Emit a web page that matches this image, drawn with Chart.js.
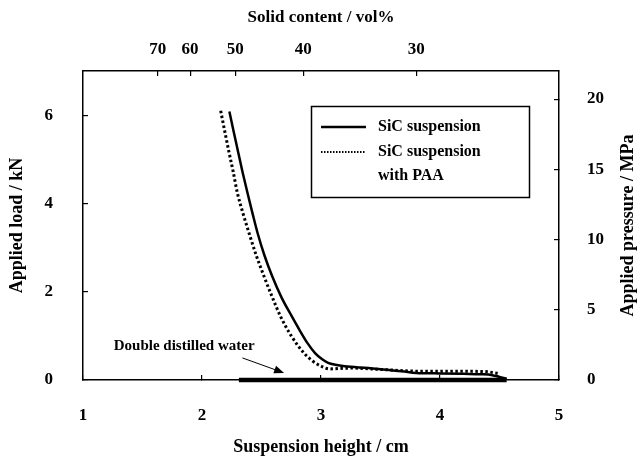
<!DOCTYPE html>
<html>
<head>
<meta charset="utf-8">
<script src="https://cdn.jsdelivr.net/npm/chart.js@4.4.1/dist/chart.umd.min.js"></script>
<style>
  html, body { margin: 0; padding: 0; background: #fff; }
  canvas { display: block; }
</style>
</head>
<body>
<canvas id="loadChart" width="640" height="458"></canvas>
<script>
// -------------------------------
// DONNEES
// -------------------------------
const HEIGHT_SIC = [2.23, 2.265, 2.305, 2.34, 2.382, 2.425, 2.467, 2.525, 2.59, 2.67, 2.755, 2.82, 2.885, 2.95, 3.01, 3.06, 3.12, 3.20, 3.40, 3.55, 3.68, 3.80, 4.00, 4.20, 4.35, 4.44, 4.50, 4.56];
const LOAD_SIC   = [6.08, 5.64, 5.15, 4.72, 4.24, 3.77, 3.33, 2.82, 2.35, 1.86, 1.44, 1.13, 0.84, 0.61, 0.47, 0.39, 0.345, 0.31, 0.27, 0.23, 0.20, 0.16, 0.15, 0.14, 0.13, 0.11, 0.07, 0.03];

const HEIGHT_PAA = [2.157, 2.19, 2.227, 2.262, 2.297, 2.345, 2.395, 2.455, 2.521, 2.59, 2.66, 2.75, 2.857, 2.93, 3.01, 3.07, 3.15, 3.26, 3.50, 3.82, 4.10, 4.38, 4.49];
const LOAD_PAA   = [6.10, 5.65, 5.16, 4.72, 4.24, 3.77, 3.33, 2.83, 2.35, 1.88, 1.44, 1.00, 0.61, 0.43, 0.30, 0.25, 0.26, 0.27, 0.24, 0.20, 0.20, 0.19, 0.15];

const HEIGHT_WATER = [2.31, 4.56];
const LOAD_WATER   = [0, 0];

// ticks
const HEIGHT_TICKS = [1, 2, 3, 4, 5];
const LOAD_TICKS = [0, 2, 4, 6];
const PRESSURE_TICKS = [0, 5, 10, 15, 20];
const SOLID_TICKS = [70, 60, 50, 40, 30];

const SOLID_FACTOR = 114;   // hauteur (cm) x teneur en solide (vol%)
const MPA_PER_KN = 3.143;   // conversion charge -> pression

// annotation "Double distilled water" (coordonnees des donnees)
const NOTE_TEXT = "Double distilled water";
const NOTE_AT = { x: 1.85, y: 0.77 };
const ARROW_FROM = { x: 2.34, y: 0.50 };
const ARROW_TO = { x: 2.69, y: 0.16 };

const FONT = "'Liberation Serif', 'Times New Roman', serif";
const BLACK = '#000';

function toPoints(xs, ys) {
  return xs.map((x, i) => ({ x: x, y: ys[i] }));
}

// axe avec cadre + graduations vers l'interieur
function frameAxis(extra) {
  return Object.assign({
    grid: { drawOnChartArea: false, drawTicks: true, tickLength: -5, color: BLACK, lineWidth: 1.2 },
    border: { display: true, color: BLACK, width: 1.5 }
  }, extra);
}

function fixTicks(values) {
  return scale => { scale.ticks = values.map(v => ({ value: v })); };
}

// -------------------------------
// PLUGIN : legende, annotation, titre droit
// -------------------------------
const extrasPlugin = {
  id: 'extras',
  afterDraw(chart) {
    const ctx = chart.ctx;
    const xs = chart.scales.x;
    const ys = chart.scales.y;
    const area = chart.chartArea;
    ctx.save();

    // legende encadree
    ctx.strokeStyle = BLACK;
    ctx.lineWidth = 1.5;
    ctx.strokeRect(311.5, 106.5, 218, 91);
    ctx.font = 'bold 16px ' + FONT;
    ctx.fillStyle = BLACK;
    ctx.textBaseline = 'middle';
    ctx.textAlign = 'left';

    const sic = chart.data.datasets[0];
    const paa = chart.data.datasets[1];
    ctx.lineWidth = 2.5;
    ctx.setLineDash([]);
    ctx.beginPath(); ctx.moveTo(321, 127); ctx.lineTo(366, 127); ctx.stroke();
    ctx.fillText(sic.label, 378, 127);

    ctx.lineWidth = 2;
    ctx.setLineDash([1.5, 1.5]);
    ctx.beginPath(); ctx.moveTo(321, 152); ctx.lineTo(366, 152); ctx.stroke();
    ctx.setLineDash([]);
    ctx.fillText(paa.label[0], 378, 152);
    ctx.fillText(paa.label[1], 378, 176);

    // annotation
    ctx.font = 'bold 15px ' + FONT;
    ctx.textAlign = 'center';
    ctx.fillText(NOTE_TEXT, xs.getPixelForValue(NOTE_AT.x), ys.getPixelForValue(NOTE_AT.y));

    const x0 = xs.getPixelForValue(ARROW_FROM.x), y0 = ys.getPixelForValue(ARROW_FROM.y);
    const x1 = xs.getPixelForValue(ARROW_TO.x), y1 = ys.getPixelForValue(ARROW_TO.y);
    const ang = Math.atan2(y1 - y0, x1 - x0);
    ctx.lineWidth = 1;
    ctx.beginPath(); ctx.moveTo(x0, y0); ctx.lineTo(x1 - 8 * Math.cos(ang), y1 - 8 * Math.sin(ang)); ctx.stroke();
    ctx.beginPath();
    ctx.moveTo(x1, y1);
    ctx.lineTo(x1 - 10 * Math.cos(ang) + 4 * Math.sin(ang), y1 - 10 * Math.sin(ang) - 4 * Math.cos(ang));
    ctx.lineTo(x1 - 10 * Math.cos(ang) - 4 * Math.sin(ang), y1 - 10 * Math.sin(ang) + 4 * Math.cos(ang));
    ctx.closePath();
    ctx.fill();

    // titre de l'axe droit (lu de bas en haut)
    ctx.translate(628, (area.top + area.bottom) / 2);
    ctx.rotate(-Math.PI / 2);
    ctx.font = 'bold 18px ' + FONT;
    ctx.textAlign = 'center';
    ctx.fillText('Applied pressure / MPa', 0, 0);
    ctx.restore();
  }
};

// -------------------------------
// GRAPHIQUE
// -------------------------------
const ctx = document.getElementById('loadChart').getContext('2d');

new Chart(ctx, {
  type: 'line',
  data: {
    datasets: [
      {
        label: 'SiC suspension',
        data: toPoints(HEIGHT_SIC, LOAD_SIC),
        borderColor: BLACK,
        borderWidth: 2.5,
        pointRadius: 0,
        cubicInterpolationMode: 'monotone'
      },
      {
        label: ['SiC suspension', 'with PAA'],
        data: toPoints(HEIGHT_PAA, LOAD_PAA),
        borderColor: BLACK,
        borderWidth: 3,
        borderDash: [2.5, 2.5],
        pointRadius: 0,
        cubicInterpolationMode: 'monotone'
      },
      {
        label: NOTE_TEXT,
        data: toPoints(HEIGHT_WATER, LOAD_WATER),
        borderColor: BLACK,
        borderWidth: 4.5,
        pointRadius: 0,
        clip: false
      }
    ]
  },
  options: {
    responsive: false,
    animation: false,
    devicePixelRatio: 1,
    layout: { padding: 0 },
    plugins: {
      legend: { display: false },
      tooltip: { enabled: false }
    },
    scales: {
      x: frameAxis({
        type: 'linear',
        position: 'bottom',
        min: 1,
        max: 5,
        afterBuildTicks: fixTicks(HEIGHT_TICKS),
        afterFit: s => { s.height = 78; },
        ticks: { color: BLACK, padding: 30, font: { family: FONT, size: 17, weight: 'bold' } },
        title: { display: true, text: 'Suspension height / cm', color: BLACK, padding: { top: 0, bottom: 0 },
                 font: { family: FONT, size: 18, weight: 'bold' } }
      }),
      xTop: frameAxis({
        type: 'linear',
        position: 'top',
        min: 1,
        max: 5,
        afterBuildTicks: scale => { scale.ticks = SOLID_TICKS.map(v => ({ value: SOLID_FACTOR / v })); },
        afterFit: s => { s.height = 71; },
        ticks: { color: BLACK, padding: 16, font: { family: FONT, size: 17, weight: 'bold' },
                 callback: v => Math.round(SOLID_FACTOR / v) },
        title: { display: true, text: 'Solid content / vol%', color: BLACK, padding: { top: 7, bottom: 0 },
                 font: { family: FONT, size: 17, weight: 'bold' } }
      }),
      y: frameAxis({
        type: 'linear',
        position: 'left',
        min: 0,
        max: 7,
        afterBuildTicks: fixTicks(LOAD_TICKS),
        afterFit: s => { s.width = 83; },
        ticks: { color: BLACK, padding: 35, font: { family: FONT, size: 17, weight: 'bold' } },
        title: { display: true, text: 'Applied load / kN', color: BLACK, padding: { top: 7, bottom: 0 },
                 font: { family: FONT, size: 18, weight: 'bold' } }
      }),
      y2: frameAxis({
        type: 'linear',
        position: 'right',
        min: 0,
        max: 7 * MPA_PER_KN,
        afterBuildTicks: fixTicks(PRESSURE_TICKS),
        afterFit: s => { s.width = 81; },
        ticks: { color: BLACK, padding: 33, font: { family: FONT, size: 17, weight: 'bold' } }
      })
    }
  },
  plugins: [extrasPlugin]
});
</script>
</body>
</html>
